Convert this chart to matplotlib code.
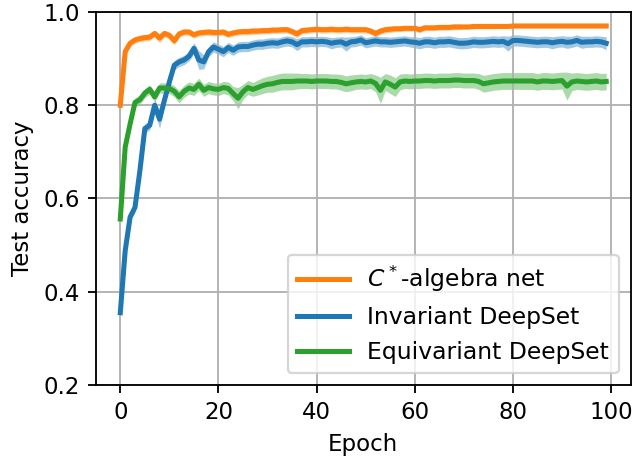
import numpy as np
import matplotlib
matplotlib.use("Agg")
import matplotlib.pyplot as plt

epochs = np.arange(100)

# C*-algebra net (mean test accuracy per epoch)
cstar_mean = [
    0.800, 0.915, 0.933, 0.940, 0.943, 0.945, 0.946, 0.954, 0.944, 0.954,
    0.950, 0.938, 0.953, 0.957, 0.957, 0.951, 0.955, 0.956, 0.957, 0.956,
    0.956, 0.957, 0.952, 0.955, 0.957, 0.958, 0.958, 0.959, 0.959, 0.960,
    0.960, 0.961, 0.961, 0.962, 0.962, 0.958, 0.953, 0.960, 0.961, 0.962,
    0.963, 0.962, 0.962, 0.963, 0.962, 0.962, 0.963, 0.962, 0.962, 0.962,
    0.962, 0.959, 0.954, 0.959, 0.962, 0.963, 0.964, 0.964, 0.965, 0.965,
    0.965, 0.962, 0.966, 0.966, 0.966, 0.967, 0.967, 0.967, 0.968, 0.968,
    0.968, 0.968, 0.969, 0.969, 0.969, 0.969, 0.969, 0.969, 0.969, 0.969,
    0.970, 0.970, 0.970, 0.970, 0.970, 0.970, 0.970, 0.970, 0.970, 0.970,
    0.970, 0.970, 0.970, 0.970, 0.970, 0.970, 0.970, 0.970, 0.970, 0.970,
]
cstar_std = [
    0.003, 0.007, 0.007, 0.007, 0.007, 0.007, 0.007, 0.007, 0.010, 0.007,
    0.007, 0.008, 0.007, 0.007, 0.007, 0.007, 0.007, 0.007, 0.007, 0.007,
    0.007, 0.007, 0.007, 0.007, 0.007, 0.007, 0.007, 0.007, 0.007, 0.007,
    0.007, 0.007, 0.007, 0.007, 0.007, 0.007, 0.008, 0.007, 0.007, 0.007,
    0.007, 0.007, 0.007, 0.007, 0.007, 0.007, 0.007, 0.007, 0.007, 0.007,
    0.007, 0.007, 0.007, 0.007, 0.007, 0.007, 0.006, 0.006, 0.006, 0.006,
    0.006, 0.007, 0.006, 0.006, 0.006, 0.006, 0.006, 0.006, 0.006, 0.006,
    0.005, 0.005, 0.005, 0.005, 0.005, 0.005, 0.005, 0.004, 0.004, 0.004,
    0.004, 0.004, 0.004, 0.004, 0.004, 0.004, 0.004, 0.004, 0.004, 0.004,
    0.004, 0.004, 0.004, 0.004, 0.004, 0.004, 0.004, 0.004, 0.004, 0.004,
]

# Invariant DeepSet
inv_mean = [
    0.355, 0.488, 0.560, 0.581, 0.660, 0.750, 0.757, 0.800, 0.770, 0.811,
    0.850, 0.886, 0.893, 0.897, 0.905, 0.922, 0.897, 0.893, 0.915, 0.925,
    0.920, 0.915, 0.924, 0.918, 0.925, 0.926, 0.926, 0.929, 0.931, 0.931,
    0.933, 0.934, 0.933, 0.936, 0.938, 0.936, 0.930, 0.936, 0.936, 0.937,
    0.936, 0.937, 0.936, 0.933, 0.935, 0.936, 0.931, 0.936, 0.937, 0.940,
    0.934, 0.936, 0.938, 0.936, 0.936, 0.935, 0.936, 0.937, 0.938, 0.936,
    0.935, 0.933, 0.936, 0.936, 0.934, 0.936, 0.936, 0.937, 0.935, 0.933,
    0.933, 0.934, 0.936, 0.935, 0.935, 0.936, 0.937, 0.936, 0.937, 0.932,
    0.939, 0.939, 0.938, 0.937, 0.936, 0.935, 0.936, 0.936, 0.934, 0.936,
    0.937, 0.935, 0.936, 0.939, 0.935, 0.936, 0.936, 0.937, 0.936, 0.933,
]
inv_std = [
    0.004, 0.007, 0.008, 0.010, 0.008, 0.010, 0.010, 0.012, 0.020, 0.012,
    0.009, 0.010, 0.010, 0.010, 0.010, 0.012, 0.020, 0.015, 0.011, 0.011,
    0.011, 0.011, 0.011, 0.011, 0.011, 0.011, 0.011, 0.011, 0.011, 0.011,
    0.011, 0.011, 0.011, 0.011, 0.011, 0.011, 0.013, 0.011, 0.011, 0.011,
    0.011, 0.011, 0.011, 0.012, 0.011, 0.011, 0.015, 0.011, 0.011, 0.011,
    0.011, 0.011, 0.011, 0.011, 0.011, 0.011, 0.011, 0.011, 0.011, 0.011,
    0.012, 0.012, 0.012, 0.012, 0.012, 0.012, 0.012, 0.012, 0.012, 0.012,
    0.012, 0.012, 0.012, 0.012, 0.012, 0.012, 0.012, 0.012, 0.012, 0.016,
    0.012, 0.012, 0.012, 0.012, 0.012, 0.012, 0.012, 0.012, 0.013, 0.012,
    0.012, 0.013, 0.012, 0.012, 0.013, 0.012, 0.012, 0.012, 0.012, 0.014,
]

# Equivariant DeepSet
equi_mean = [
    0.556, 0.710, 0.760, 0.806, 0.812, 0.826, 0.834, 0.818, 0.837, 0.837,
    0.836, 0.830, 0.818, 0.830, 0.837, 0.834, 0.845, 0.832, 0.838, 0.835,
    0.834, 0.838, 0.836, 0.825, 0.815, 0.829, 0.838, 0.834, 0.838, 0.842,
    0.845, 0.846, 0.849, 0.851, 0.851, 0.851, 0.852, 0.852, 0.852, 0.851,
    0.852, 0.852, 0.852, 0.851, 0.851, 0.849, 0.846, 0.848, 0.850, 0.851,
    0.850, 0.852, 0.847, 0.832, 0.850, 0.845, 0.839, 0.850, 0.852, 0.851,
    0.852, 0.852, 0.853, 0.853, 0.852, 0.853, 0.853, 0.853, 0.854, 0.854,
    0.853, 0.853, 0.853, 0.851, 0.846, 0.848, 0.850, 0.851, 0.852, 0.852,
    0.852, 0.852, 0.852, 0.852, 0.852, 0.850, 0.852, 0.852, 0.851, 0.852,
    0.853, 0.841, 0.850, 0.852, 0.851, 0.850, 0.851, 0.852, 0.850, 0.851,
]
equi_std = [
    0.004, 0.007, 0.010, 0.010, 0.010, 0.010, 0.010, 0.011, 0.011, 0.011,
    0.011, 0.012, 0.013, 0.013, 0.013, 0.013, 0.013, 0.013, 0.013, 0.013,
    0.013, 0.013, 0.014, 0.015, 0.023, 0.016, 0.015, 0.015, 0.016, 0.017,
    0.017, 0.018, 0.018, 0.018, 0.018, 0.018, 0.017, 0.016, 0.016, 0.016,
    0.016, 0.016, 0.016, 0.016, 0.016, 0.017, 0.017, 0.017, 0.016, 0.016,
    0.016, 0.016, 0.018, 0.028, 0.018, 0.020, 0.020, 0.017, 0.016, 0.016,
    0.016, 0.016, 0.016, 0.016, 0.016, 0.016, 0.016, 0.016, 0.016, 0.016,
    0.016, 0.016, 0.016, 0.017, 0.018, 0.018, 0.018, 0.018, 0.018, 0.018,
    0.018, 0.018, 0.018, 0.018, 0.018, 0.018, 0.018, 0.018, 0.018, 0.018,
    0.018, 0.030, 0.019, 0.018, 0.018, 0.018, 0.018, 0.018, 0.018, 0.018,
]

series = [
    (r"$C^*$-algebra net", cstar_mean, cstar_std, "tab:orange"),
    ("Invariant DeepSet", inv_mean, inv_std, "tab:blue"),
    ("Equivariant DeepSet", equi_mean, equi_std, "tab:green"),
]

fig = plt.figure(figsize=(634 / 165, 456 / 165), dpi=165)
ax = fig.add_axes([0.1514, 0.1557, 0.8431, 0.818])

for label, mean, std, color in series:
    mean = np.array(mean)
    std = np.array(std)
    ax.plot(epochs, mean, color=color, lw=2.2, label=label)
    ax.fill_between(epochs, mean - std, mean + std, color=color, alpha=0.4, lw=0)

ax.set_ylim(0.2, 1.0)
ax.set_xticks([0, 20, 40, 60, 80, 100])
ax.set_yticks([0.2, 0.4, 0.6, 0.8, 1.0])
ax.grid(True)
ax.set_xlabel("Epoch")
ax.set_ylabel("Test accuracy")
ax.legend(loc="lower right", fontsize=10.25, handlelength=2.2)

fig.savefig("out.png", dpi=165)
